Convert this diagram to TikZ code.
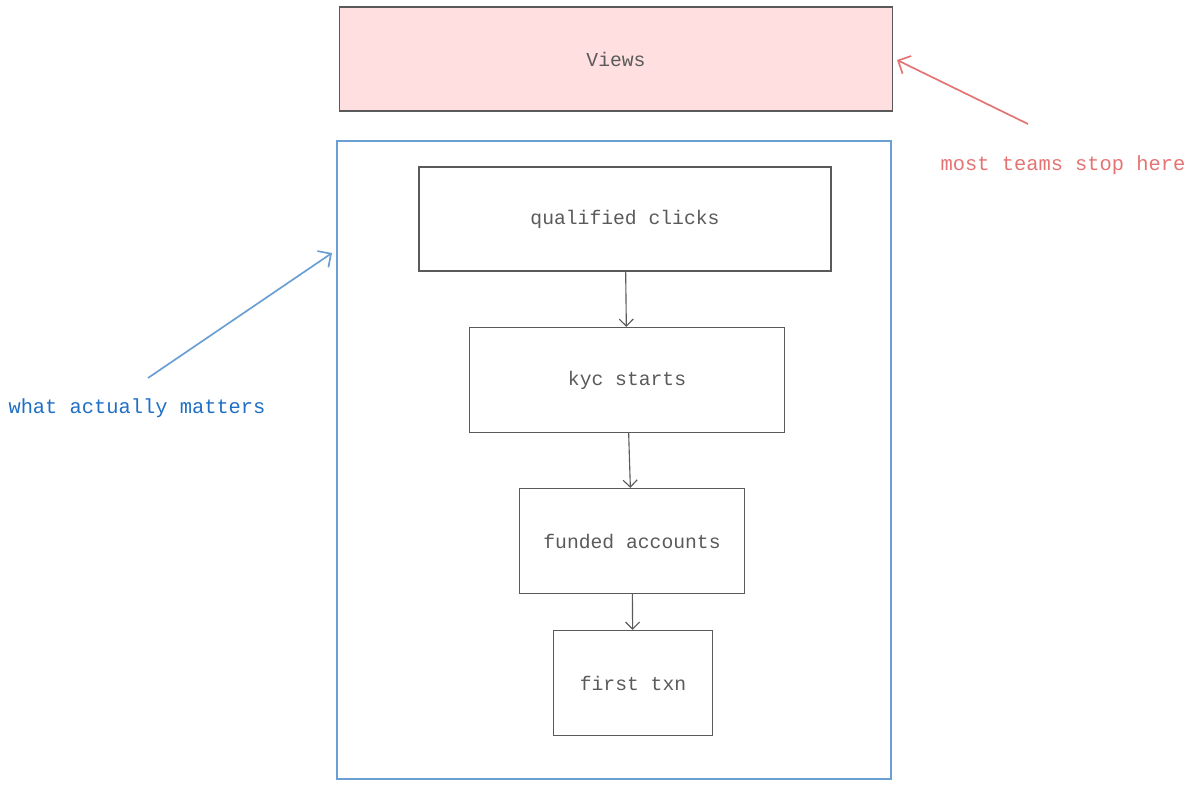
\documentclass[tikz,border=0pt]{standalone}
\usepackage{fontspec}
\setmainfont{Liberation Mono}
\usetikzlibrary{arrows.meta}
\definecolor{boxline}{HTML}{5A5A5A}
\definecolor{viewsfill}{HTML}{FFDFE0}
\definecolor{mattblue}{HTML}{6A9FD4}
\definecolor{mattext}{HTML}{1F6FC5}
\definecolor{stopred}{HTML}{E57373}
\tikzset{
  funnelbox/.style={draw=boxline, line width=0.9pt, text=boxline, font=\fontsize{14}{16}\selectfont, inner sep=0pt},
  flow/.style={draw=boxline, line width=0.8pt, -{Straight Barb[length=5pt]}},
  note/.style={font=\fontsize{14.5}{16}\selectfont}
}
\begin{document}
\begin{tikzpicture}[x=0.025cm, y=-0.025cm]
		\useasboundingbox (0,0) rectangle (1200,787);
		% top box
		\node (views) at (616,59) [funnelbox, fill=viewsfill, minimum width=553*0.025cm, minimum height=104*0.025cm] {Views};
		% frame round the funnel
		\node (frame) at (614,460) [draw=mattblue, line width=1.6pt, minimum width=554*0.025cm, minimum height=638*0.025cm] {};
		% funnel steps
		\node (clicks) at (625,219) [funnelbox, minimum width=412*0.025cm, minimum height=104*0.025cm] {qualified clicks};
		\node (kyc) at (627,380) [funnelbox, minimum width=315*0.025cm, minimum height=105*0.025cm] {kyc starts};
		\node (funded) at (632,541) [funnelbox, minimum width=225*0.025cm, minimum height=105*0.025cm] {funded accounts};
		\node (txn) at (633,683) [funnelbox, minimum width=159*0.025cm, minimum height=105*0.025cm] {first txn};
		\draw[flow] (clicks) -- (kyc);
		\draw[flow] (kyc) -- (funded);
		\draw[flow] (funded) -- (txn);
		% notes
		\node (stop) at (1063,165) [note, text=stopred] {most teams stop here};
		\node (matter) at (137,408) [note, text=mattext] {what actually matters};
		\coordinate (stoptip) at (897,60);
		\coordinate (stoptail) at (1028,124);
		\coordinate (mattip) at (332,253);
		\coordinate (mattail) at (148,378);
		\draw[stopred, line width=1.2pt, -{Straight Barb[length=7pt]}] (stoptail) -- (stoptip);
		\draw[mattblue, line width=1.2pt, -{Straight Barb[length=7pt]}] (mattail) -- (mattip);
\end{tikzpicture}
\end{document}
